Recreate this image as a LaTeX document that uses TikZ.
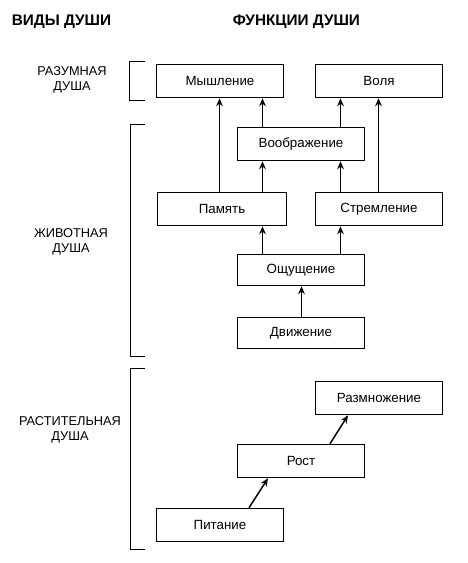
\documentclass[tikz,border=0pt]{standalone}
\usepackage{fontspec}
\setmainfont{Liberation Sans}
\usetikzlibrary{arrows.meta}
\begin{document}
\begin{tikzpicture}[x=0.75pt,y=-0.75pt,
  fbox/.style={draw,line width=1.1pt,minimum width=95.25pt,minimum height=24.75pt,inner sep=0pt,font=\fontsize{10}{12}\selectfont},
  arr/.style={line width=1.1pt,-{Stealth[length=6pt,width=5pt]}},
  brk/.style={line width=1.1pt},
  kind/.style={align=center,font=\fontsize{9.6}{11}\selectfont},
  head/.style={font=\fontsize{11.5}{13}\selectfont\bfseries}]
\useasboundingbox (0,0) rectangle (467,563);
% headers
\node[head] (h1) at (61.5,22) {ВИДЫ ДУШИ};
\node[head] (h2) at (296.5,22) {ФУНКЦИИ ДУШИ};
% kinds
\node[kind] (k1) at (72,80) {РАЗУМНАЯ\\ДУША};
\node[kind] (k2) at (71,242) {ЖИВОТНАЯ\\ДУША};
\node[kind] (k3) at (70,430) {РАСТИТЕЛЬНАЯ\\ДУША};
% brackets
\draw[brk] (145,61.5) -- (129.5,61.5) -- (129.5,100.5) -- (145,100.5);
\draw[brk] (145,124.5) -- (130.5,124.5) -- (130.5,356.5) -- (145,356.5);
\draw[brk] (145,368.5) -- (130.5,368.5) -- (130.5,549.5) -- (145,549.5);
% boxes
\node[fbox] (mysh) at (220,81) {Мышление};
\node[fbox] (vol) at (379,81) {Воля};
\node[fbox] (voob) at (301,144) {Воображение};
\node[fbox,minimum width=96.75pt] (pam) at (222,209) {Память};
\node[fbox] (strem) at (379,209) {Стремление};
\node[fbox,minimum height=23.25pt] (oshch) at (301,270) {Ощущение};
\node[fbox,minimum height=23.25pt] (dvizh) at (301,333) {Движение};
\node[fbox] (razm) at (379,398) {Размножение};
\node[fbox] (rost) at (301,461) {Рост};
\node[fbox] (pit) at (220,525) {Питание};
% x positions of vertical connectors
\coordinate (xa) at (219.5,0);
\coordinate (xb) at (262.5,0);
\coordinate (xc) at (340.5,0);
\coordinate (xd) at (378.5,0);
\coordinate (xe) at (301.5,0);
\coordinate (xf) at (249,0);
\coordinate (xg) at (268,0);
\coordinate (xh) at (330,0);
\coordinate (xi) at (348,0);
% connectors
\draw[arr] (pam.north -| xa) -- (mysh.south -| xa);
\draw[arr] (voob.north -| xb) -- (mysh.south -| xb);
\draw[arr] (voob.north -| xc) -- (vol.south -| xc);
\draw[arr] (strem.north -| xd) -- (vol.south -| xd);
\draw[arr] (pam.north -| xb) -- (voob.south -| xb);
\draw[arr] (strem.north -| xc) -- (voob.south -| xc);
\draw[arr] (oshch.north -| xb) -- (pam.south -| xb);
\draw[arr] (oshch.north -| xc) -- (strem.south -| xc);
\draw[arr] (dvizh.north -| xe) -- (oshch.south -| xe);
\draw[arr] (pit.north -| xf) -- (rost.south -| xg);
\draw[arr] (rost.north -| xh) -- (razm.south -| xi);
\end{tikzpicture}
\end{document}
